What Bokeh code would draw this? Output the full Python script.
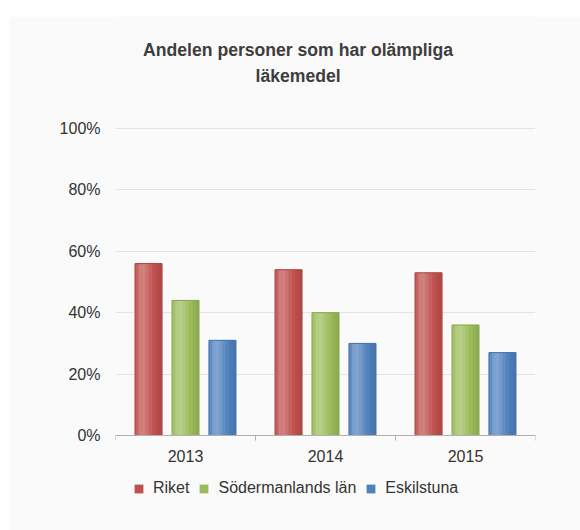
from bokeh.plotting import figure
from bokeh.models import (ColumnDataSource, FixedTicker, PrintfTickFormatter, Legend,
                          LegendItem, Label, Range1d, Spacer)
from bokeh.layouts import column, row
from bokeh.transform import dodge
from bokeh.embed import file_html
from bokeh.resources import INLINE

# ---- data ----
title_lines = ["Andelen personer som har olämpliga", "läkemedel"]
years = ["2013", "2014", "2015"]
series_names = ["Riket", "Södermanlands län", "Eskilstuna"]
riket = [56, 54, 53]
sodermanland = [44, 40, 36]
eskilstuna = [31, 30, 27]
y_ticks = [0, 20, 40, 60, 80, 100]

# ---- style ----
keys = ["riket", "sod", "esk"]
colors = ["#c0504d", "#9bbb59", "#4f81bd"]
borders = ["#a8423f", "#86a548", "#416fa8"]
offsets = [-0.264, 0.0, 0.264]
bar_w = 0.193
FONT = "Liberation Sans"
BG = "#fafafa"

# frame geometry (pixels): 0 -> 307 px for 0..100 %
PX = 3.07
TOP_PAD = 112      # px above the 100 % line (title lives here)
BOTTOM_PAD = 62    # px below the 0 % line (x labels + legend live here)

x_pos = [i + 0.5 for i in range(len(years))]
src = ColumnDataSource(dict(x=x_pos, year=years, riket=riket, sod=sodermanland, esk=eskilstuna))

p = figure(width=572, height=514,
           x_range=Range1d(0, len(years)),
           y_range=Range1d(-BOTTOM_PAD / PX, 100 + TOP_PAD / PX),
           output_backend="svg", toolbar_location=None, title=None,
           min_border_left=107, min_border_right=45, min_border_top=0, min_border_bottom=33,
           background_fill_color=BG, border_fill_color=BG, outline_line_color=None)

# gradient overlay (light band on the left, darker on the right)
shade = [("white", 0.10), ("white", 0.25), ("white", 0.28), ("white", 0.20),
         ("white", 0.10), ("white", 0.02), ("black", 0.04), ("black", 0.08)]
n = len(shade)
sw = bar_w / n

fill_renderers = []
for k, key in enumerate(keys):
    r = p.vbar(x=dodge("x", offsets[k], range=p.x_range), top=key, width=bar_w, source=src,
               fill_color=colors[k], line_color=None)
    fill_renderers.append(r)
    for j, (c, a) in enumerate(shade):
        off = offsets[k] - bar_w / 2 + (j + 0.5) * sw
        p.vbar(x=dodge("x", off, range=p.x_range), top=key, width=sw * 1.02, source=src,
               fill_color=c, fill_alpha=a, line_color=None)
    p.vbar(x=dodge("x", offsets[k], range=p.x_range), top=key, width=bar_w, source=src,
           fill_color=None, line_color=borders[k], line_width=1)

# x axis, drawn at 0 %
p.xaxis.fixed_location = 0
p.xaxis.ticker = FixedTicker(ticks=x_pos, minor_ticks=list(range(len(years) + 1)))
p.xaxis.major_label_overrides = {x_pos[i]: years[i] for i in range(len(years))}
p.xaxis.major_tick_line_color = None
p.xaxis.major_tick_out = 0
p.xaxis.major_tick_in = 0
p.xaxis.minor_tick_line_color = "#b0b0b0"
p.xaxis.minor_tick_out = 5
p.xaxis.minor_tick_in = 0
p.xaxis.axis_line_color = "#b0b0b0"
p.xaxis.major_label_text_font = FONT
p.xaxis.major_label_text_font_size = "16px"
p.xaxis.major_label_text_color = "#333333"
p.xaxis.major_label_standoff = 9

# y axis
p.yaxis.ticker = FixedTicker(ticks=y_ticks)
p.yaxis.formatter = PrintfTickFormatter(format="%d%%")
p.yaxis.axis_line_color = None
p.yaxis.major_tick_line_color = None
p.yaxis.minor_tick_line_color = None
p.yaxis.major_tick_out = 0
p.yaxis.major_tick_in = 0
p.yaxis.major_label_standoff = 15
p.yaxis.major_label_text_font = FONT
p.yaxis.major_label_text_font_size = "16px"
p.yaxis.major_label_text_color = "#333333"

p.xgrid.visible = False
p.ygrid.ticker = FixedTicker(ticks=y_ticks)
p.ygrid.grid_line_color = "#e3e3e3"
p.ygrid.grid_line_width = 1

# title (two centred lines above the plot)
title_x = 1.304
title_y = [125.7, 117.0]
for i, line in enumerate(title_lines):
    p.add_layout(Label(x=title_x, y=title_y[i], text=line,
                       text_align="center", text_baseline="alphabetic",
                       text_font=FONT, text_font_style="bold", text_font_size="17.6px",
                       text_color="#3d3d3d"))

# legend
legend = Legend(items=[LegendItem(label=series_names[k], renderers=[fill_renderers[k]])
                       for k in range(len(keys))],
                orientation="horizontal", location=(18, 0), padding=0, margin=0,
                border_line_color=None, background_fill_alpha=0,
                glyph_width=11, glyph_height=11, label_height=16,
                label_standoff=9, spacing=9,
                label_text_font=FONT, label_text_font_size="16px", label_text_color="#333333")
p.add_layout(legend)

layout = column(Spacer(width=580, height=16), row(Spacer(width=8, height=10), p))
open("out.html", "w").write(file_html(layout, INLINE))
